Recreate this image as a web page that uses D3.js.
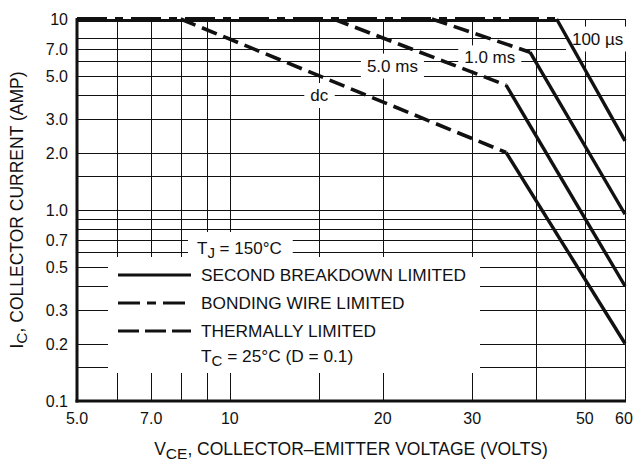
<!DOCTYPE html>
<html><head><meta charset="utf-8">
<script src="https://cdn.jsdelivr.net/npm/d3@7"></script>
<style>
body{margin:0;background:#fff}
text{font-family:"Liberation Sans",Arial,Helvetica,sans-serif;fill:#111}
</style>
</head><body>
<svg id="c" width="634" height="462"></svg>
<script>
// ---- data ----
const xTicks = [5, 7, 10, 20, 30, 50, 60];
const xTickLabels = ["5.0", "7.0", "10", "20", "30", "50", "60"];
const xGrid = [6, 7, 8, 9, 10, 15, 20, 30, 40, 50];
const yTicks = [0.1, 0.2, 0.3, 0.5, 0.7, 1, 2, 3, 5, 7, 10];
const yTickLabels = ["0.1", "0.2", "0.3", "0.5", "0.7", "1.0", "2.0", "3.0", "5.0", "7.0", "10"];
const yGrid = [0.15, 0.2, 0.3, 0.4, 0.5, 0.6, 0.7, 0.8, 0.9, 1, 1.5, 2, 3, 4, 5, 6, 7, 8];

const bondingWire = [[5, 10], [44, 10]];
const dcThermal = [[8, 10], [35, 2.0]];
const dcSecond = [[35, 2.0], [60, 0.2]];
const ms5Thermal = [[16, 10], [35, 4.5]];
const ms5Second = [[35, 4.5], [60, 0.4]];
const ms1Thermal = [[25, 10], [39, 6.7]];
const ms1Second = [[39, 6.7], [60, 0.95]];
const us100Second = [[44, 10], [60, 2.3]];

const curveLabels = [
  {text: "dc", v: 15, i: 4.0},
  {text: "5.0 ms", v: 20.9, i: 5.7},
  {text: "1.0 ms", v: 32.5, i: 6.3},
  {text: "100 \u00B5s", v: 53, i: 7.9}
];
const legendItems = [
  {text: "SECOND BREAKDOWN LIMITED", dash: null},
  {text: "BONDING WIRE LIMITED", dash: "22,7,9,7,22"},
  {text: "THERMALLY LIMITED", dash: "21,6"}
];

// ---- layout ----
const L = 77, R = 625, T = 19, B = 401;
const x = d3.scaleLog().domain([5, 60]).range([L, R]);
const y = d3.scaleLog().domain([0.1, 10]).range([B, T]);
const svg = d3.select("#c");
const ink = "#111";

// grid
const g = svg.append("g").attr("stroke", ink).attr("stroke-width", 1).attr("shape-rendering", "crispEdges");
g.selectAll("line.v").data(xGrid).join("line")
  .attr("x1", d => Math.round(x(d)) + 0.5).attr("x2", d => Math.round(x(d)) + 0.5)
  .attr("y1", T).attr("y2", B);
g.selectAll("line.h").data(yGrid).join("line")
  .attr("x1", L).attr("x2", R)
  .attr("y1", d => Math.round(y(d)) + 0.5).attr("y2", d => Math.round(y(d)) + 0.5);
g.append("line").attr("x1", L).attr("x2", R).attr("y1", T + 0.5).attr("y2", T + 0.5);
g.append("line").attr("x1", R + 0.5).attr("x2", R + 0.5).attr("y1", T).attr("y2", B);

// backgrounds group, then labels
const bg = svg.append("g").attr("fill", "#fff");
bg.append("rect").attr("x", 108).attr("y", 257).attr("width", 372).attr("height", 116);
const lab = svg.append("g");
curveLabels.forEach(c => {
  const t = lab.append("text").attr("x", x(c.v)).attr("y", y(c.i) + 6)
    .attr("text-anchor", "middle").attr("font-size", 17).text(c.text);
  const bb = t.node().getBBox();
  bg.append("rect").attr("x", bb.x - 6).attr("y", bb.y - 3)
    .attr("width", bb.width + 12).attr("height", bb.height + 6);
});

// T_J label
const tj = lab.append("text").attr("x", 197).attr("y", 254).attr("font-size", 17);
tj.append("tspan").text("T");
tj.append("tspan").attr("dy", 4).attr("font-size", 15).text("J");
tj.append("tspan").attr("dy", -4).text(" = 150\u00B0C");
const tjb = tj.node().getBBox();
bg.append("rect").attr("x", tjb.x - 9).attr("y", 232)
  .attr("width", tjb.width + 20).attr("height", 26);

// curves
const line = d3.line().x(d => x(d[0])).y(d => y(d[1]));
const cg = svg.append("g").attr("fill", "none").attr("stroke", ink).attr("stroke-linecap", "butt");
cg.append("path").datum(bondingWire).attr("d", line).attr("stroke-width", 3.2).attr("transform", "translate(0,1.5)");
cg.append("path").datum(bondingWire).attr("d", line).attr("stroke-width", 2.5).attr("transform", "translate(0,-0.8)")
  .attr("stroke-dasharray", "30,8,8,8");
[dcThermal, ms5Thermal, ms1Thermal].forEach(d =>
  cg.append("path").datum(d).attr("d", line).attr("stroke-width", 3.6).attr("stroke-dasharray", "16,7"));
[dcSecond, ms5Second, ms1Second, us100Second].forEach(d =>
  cg.append("path").datum(d).attr("d", line).attr("stroke-width", 3.4));

// axes (thick left & bottom)
svg.append("line").attr("x1", L).attr("x2", L).attr("y1", T - 1).attr("y2", B + 1.5).attr("stroke", ink).attr("stroke-width", 3);
svg.append("line").attr("x1", L - 1.5).attr("x2", R + 1).attr("y1", B).attr("y2", B).attr("stroke", ink).attr("stroke-width", 3);

// tick labels
svg.append("g").selectAll("text").data(yTicks).join("text")
  .attr("x", 68).attr("y", d => y(d) + 6).attr("text-anchor", "end").attr("font-size", 16)
  .text((d, i) => yTickLabels[i]);
svg.append("g").selectAll("text").data(xTicks).join("text")
  .attr("x", d => x(d) + (d === 60 ? -1 : 0)).attr("y", 424).attr("text-anchor", "middle").attr("font-size", 16)
  .text((d, i) => xTickLabels[i]);

// legend
const lg = svg.append("g");
legendItems.forEach((it, i) => {
  const yy = 275 + i * 28;
  const ln = lg.append("line").attr("x1", 118).attr("x2", 191).attr("y1", yy).attr("y2", yy)
    .attr("stroke", ink).attr("stroke-width", 3);
  if (it.dash) ln.attr("stroke-dasharray", it.dash);
  lg.append("text").attr("x", 201).attr("y", yy + 6).attr("font-size", 17.3).text(it.text);
});
const tc = lg.append("text").attr("x", 201).attr("y", 362).attr("font-size", 17.3);
tc.append("tspan").text("T");
tc.append("tspan").attr("dy", 4).attr("font-size", 15).text("C");
tc.append("tspan").attr("dy", -4).text(" = 25\u00B0C (D = 0.1)");

// axis titles
const xt = svg.append("text").attr("x", (L + R) / 2).attr("y", 455).attr("text-anchor", "middle").attr("font-size", 17.5);
xt.append("tspan").text("V");
xt.append("tspan").attr("dy", 4).attr("font-size", 15.5).text("CE");
xt.append("tspan").attr("dy", -4).text(", COLLECTOR\u2013EMITTER VOLTAGE (VOLTS)");
const yt = svg.append("text").attr("transform", `translate(23,${(T + B) / 2}) rotate(-90)`)
  .attr("text-anchor", "middle").attr("font-size", 17.5);
yt.append("tspan").text("I");
yt.append("tspan").attr("dy", 4).attr("font-size", 15.5).text("C");
yt.append("tspan").attr("dy", -4).text(", COLLECTOR CURRENT (AMP)");
</script>
</body></html>
